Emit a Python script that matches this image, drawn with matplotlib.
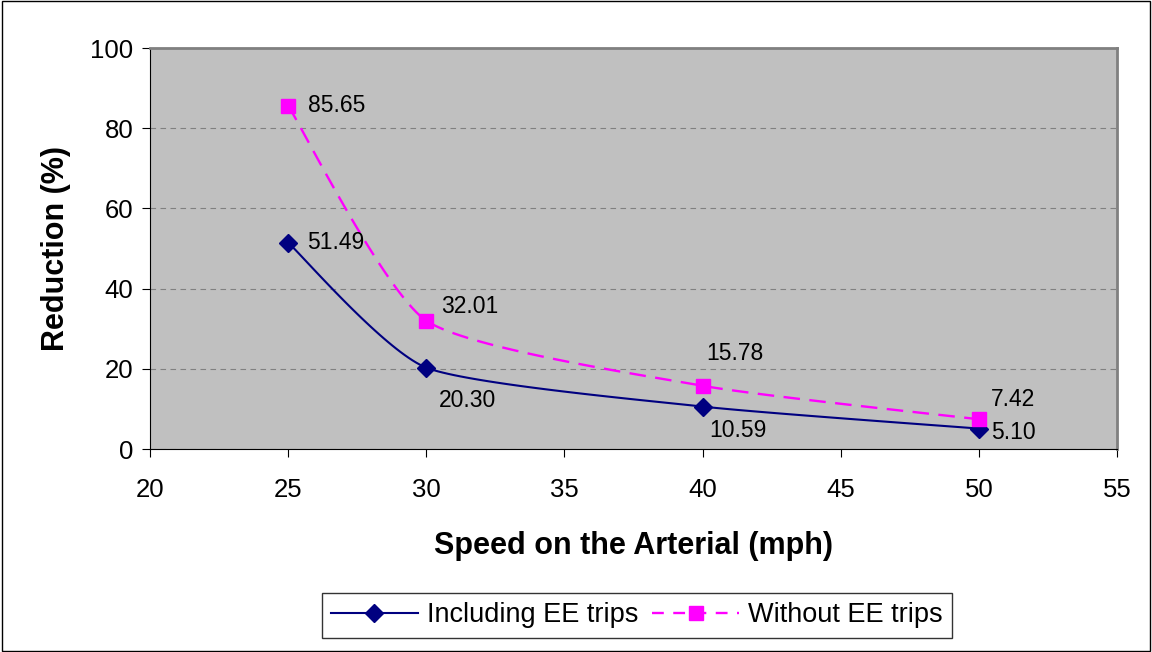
import numpy as np
import matplotlib
matplotlib.use("Agg")
import matplotlib.pyplot as plt
from matplotlib.patches import Rectangle

plt.rcParams['font.family'] = ['Liberation Sans', 'DejaVu Sans']

speed = [25, 30, 40, 50]
incl_ee = [51.49, 20.30, 10.59, 5.10]
without_ee = [85.65, 32.01, 15.78, 7.42]
incl_labels = ['51.49', '20.30', '10.59', '5.10']
without_labels = ['85.65', '32.01', '15.78', '7.42']


def smooth(xs, ys, k=0.6, n=40):
    # bezier smoothing in axis-proportional space, roughly like Excel's smoothed line
    px = (np.array(xs) - 20) / 35.0
    py = np.array(ys) / 100.0 * 0.415
    p = np.column_stack([px, py])
    p = np.vstack([p[0], p, p[-1]])
    out = []
    t = np.linspace(0, 1, n)[:, None]
    for i in range(1, len(p) - 2):
        p0, p1, p2, p3 = p[i - 1], p[i], p[i + 1], p[i + 2]
        c1 = p1 + k * (p2 - p0) / 6
        c2 = p2 - k * (p3 - p1) / 6
        b = ((1 - t) ** 3) * p1 + 3 * ((1 - t) ** 2) * t * c1 + 3 * (1 - t) * t ** 2 * c2 + t ** 3 * p2
        out.append(b)
    out = np.vstack(out)
    return out[:, 0] * 35.0 + 20, out[:, 1] / 0.415 * 100.0


fig = plt.figure(figsize=(11.52, 6.52), dpi=100)
ax = fig.add_axes([0.1302, 0.3113, 0.8394, 0.615])
ax.set_facecolor('#c0c0c0')

navy = '#000080'
pink = '#ff00ff'

sx, sy = smooth(speed, incl_ee)
ax.plot(sx, sy, color=navy, lw=1.5, zorder=3)
ax.plot(speed, incl_ee, ls='none', marker='D', ms=9, color=navy, zorder=4)
sx, sy = smooth(speed, without_ee)
ax.plot(sx, sy, color=pink, lw=1.7, ls=(0, (7, 4)), zorder=3)
ax.plot(speed, without_ee, ls='none', marker='s', ms=10, color=pink, zorder=4)

# legend proxies
ax.plot([], [], color=navy, lw=1.5, marker='D', ms=9, label='Including EE trips')
ax.plot([], [], color=pink, lw=1.7, ls=(0, (5, 4)), marker='s', ms=10, label='Without EE trips')

fs = 16.5
offs_w = [(14, 0), (11, 10), (3, 23), (9, 14)]
offs_i = [(14, 0), (9, -24), (5, -17), (9, -3)]
for x, y, t, o in zip(speed, without_ee, without_labels, offs_w):
    ax.annotate(t, (x, y), xytext=o, textcoords='offset points', ha='left', va='center', fontsize=fs)
for x, y, t, o in zip(speed, incl_ee, incl_labels, offs_i):
    ax.annotate(t, (x, y), xytext=o, textcoords='offset points', ha='left', va='center', fontsize=fs)

ax.set_xlim(20, 55)
ax.set_ylim(0, 100)
ax.set_xticks(range(20, 56, 5))
ax.set_yticks(range(0, 101, 20))
ax.tick_params(labelsize=18.5, direction='out', length=6, color='black')
ax.tick_params(axis='x', pad=15)
ax.tick_params(axis='y', pad=6)
ax.grid(axis='y', color='#808080', ls=(0, (5, 4)), lw=0.8)
ax.set_axisbelow(True)
for s in ['top', 'right']:
    ax.spines[s].set_color('#808080')
    ax.spines[s].set_linewidth(2)
ax.spines['left'].set_color('black')
ax.spines['bottom'].set_color('black')

ax.set_xlabel('Speed on the Arterial (mph)', fontsize=22, fontweight='bold', labelpad=21)
ax.set_ylabel('Reduction (%)', fontsize=22, fontweight='bold', labelpad=14)

leg = ax.legend(loc='center', bbox_to_anchor=(0.553, 0.0567), bbox_transform=fig.transFigure,
                ncol=2, fontsize=19.5, frameon=True, fancybox=False, edgecolor='black',
                handlelength=3.2, columnspacing=0.5, handletextpad=0.35, borderpad=0.35,
                borderaxespad=0)
leg.get_frame().set_linewidth(1.0)

fig.patches.append(Rectangle((0.002, 0.002), 0.996, 0.996, transform=fig.transFigure,
                             fill=False, edgecolor='black', lw=1))

fig.savefig('out.png', dpi=100)
